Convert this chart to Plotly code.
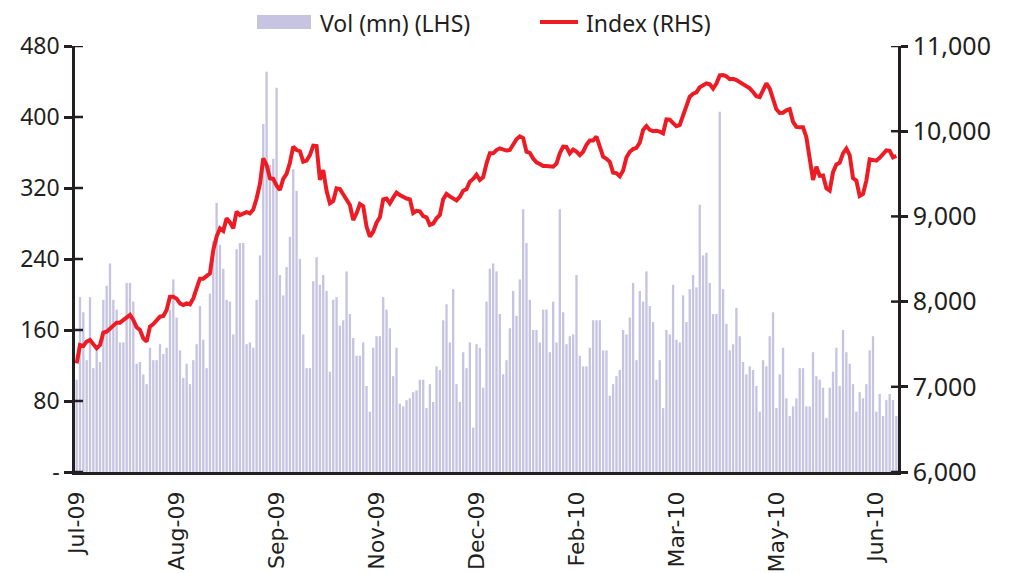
import plotly.graph_objects as go

# ---- data ----
vol_mn = [
    104,197,180,126,197,117,137,124,194,210,235,194,183,146,146,213,213,192,122,124,
    110,99,140,126,126,144,133,140,183,217,174,137,106,122,99,126,144,187,149,117,201,
    260,303,256,229,194,192,155,251,258,258,144,146,140,194,244,392,451,346,353,433,
    222,199,231,265,341,317,240,155,117,117,215,242,211,222,204,113,194,197,165,171,226,178,
    151,131,131,146,97,68,140,153,153,197,183,162,108,140,77,74,81,83,90,92,
    104,104,72,99,79,119,115,171,189,146,206,99,79,135,117,146,50,144,140,95,192,229,
    235,226,178,110,126,162,204,176,217,296,258,194,160,160,146,183,183,135,192,146,
    296,180,144,153,155,222,131,119,119,140,171,171,171,137,137,86,99,108,115,160,155,174,
    213,126,204,192,226,187,169,104,126,72,160,155,211,149,146,199,169,206,222,208,
    301,244,247,213,178,178,406,206,167,137,144,185,153,124,110,119,115,97,68,126,119,
    153,180,72,110,140,83,63,74,83,117,117,74,74,135,108,104,95,61,95,113,
    140,97,160,135,122,99,68,90,83,99,137,153,68,88,63,81,88,81,63,
]

index_level = [
    7275,7490,7479,7530,7549,7502,7451,7490,7635,7647,7686,7725,7753,7753,7784,7823,7843,7784,7698,7667,
    7569,7530,7706,7737,7784,7823,7831,7901,8058,8058,8034,7979,7960,7979,7968,8038,8156,8269,8269,8300,8331,
    8605,8762,8860,8830,8977,8930,8860,9055,9016,9036,9050,9036,9080,9210,9380,9681,9603,9447,9440,9360,
    9310,9440,9500,9630,9818,9779,9765,9642,9654,9720,9830,9826,9430,9544,9300,9153,9180,9330,9321,9260,9200,9134,
    8958,9036,9145,9120,8880,8762,8820,8926,8990,9200,9210,9153,9220,9280,9250,9223,9210,9200,9040,9065,
    9060,9004,8990,8900,8915,8977,9016,9200,9263,9235,9212,9188,9231,9302,9320,9407,9440,9490,9427,9460,9620,9740,
    9740,9779,9799,9783,9773,9779,9835,9905,9940,9920,9759,9745,9680,9635,9615,9591,9591,9591,9583,9620,
    9740,9818,9815,9740,9785,9760,9720,9759,9840,9890,9890,9936,9810,9701,9677,9640,9513,9508,9470,9540,9690,9759,
    9790,9805,9865,10015,10061,10015,10000,10006,9995,9975,10139,10135,10095,10058,10073,10180,10270,10405,10440,10455,
    10515,10542,10562,10550,10500,10560,10655,10659,10645,10610,10615,10600,10578,10558,10535,10503,10460,10410,10400,10491,10562,
    10500,10380,10257,10215,10217,10245,10260,10110,10050,10045,10045,9930,9701,9427,9583,9475,9480,9329,9302,9520,
    9610,9630,9740,9795,9720,9450,9420,9240,9263,9420,9669,9658,9654,9688,9725,9775,9770,9693,9710,
]

month_labels = ["Jul-09", "Aug-09", "Sep-09", "Nov-09", "Dec-09", "Feb-10", "Mar-10", "May-10", "Jun-10"]
label_every = 30

left_ticks = [0, 80, 160, 240, 320, 400, 480]
left_labels = ["-", "80", "160", "240", "320", "400", "480"]
right_ticks = [6000, 7000, 8000, 9000, 10000, 11000]
legend_names = ["Vol (mn) (LHS)", "Index (RHS)"]

# ---- figure ----
n = len(vol_mn)
days = list(range(n))
tick_pos = [i * label_every for i in range(len(month_labels))]

BAR = "#C6C4E1"
RED = "#ED1C24"
INK = "#231F20"
OFF = 8                     # default body margin of the html page
PL, PT, PR, PB = 75, 46, 898, 472   # plot area in page pixels
PW, PH = PR - PL, PB - PT

fig = go.Figure()
fig.add_trace(go.Bar(x=days, y=vol_mn, marker=dict(color=BAR, line=dict(width=0)),
                     name=legend_names[0], showlegend=False, yaxis="y"))
fig.add_trace(go.Scatter(x=days, y=index_level, mode="lines", line=dict(color=RED, width=4),
                         name=legend_names[1], showlegend=False, yaxis="y2"))

def px_x(p):
    return (p - PL) / PW

def px_y(p):
    return (PB - p) / PH

shapes = []
for v in left_ticks:
    shapes.append(dict(type="line", xref="paper", yref="y", x0=0, x1=8 / PW, y0=v, y1=v,
                       line=dict(color=INK, width=2.5)))
for v in right_ticks:
    shapes.append(dict(type="line", xref="paper", yref="y2", x0=1 - 7 / PW, x1=1, y0=v, y1=v,
                       line=dict(color=INK, width=2.5)))
# legend swatches
shapes.append(dict(type="rect", xref="paper", yref="paper", x0=px_x(257), x1=px_x(311),
                   y0=px_y(29), y1=px_y(15), fillcolor=BAR, line=dict(width=0)))
shapes.append(dict(type="line", xref="paper", yref="paper", x0=px_x(540), x1=px_x(578),
                   y0=px_y(22), y1=px_y(22), line=dict(color=RED, width=4)))

annotations = [
    dict(xref="paper", yref="paper", x=px_x(318), y=px_y(23), xanchor="left", yanchor="middle",
         text=legend_names[0], showarrow=False, font=dict(size=23, color=INK)),
    dict(xref="paper", yref="paper", x=px_x(584), y=px_y(23), xanchor="left", yanchor="middle",
         text=legend_names[1], showarrow=False, font=dict(size=23, color=INK)),
]

W, H = 1010 - OFF, 573 - OFF
fig.update_layout(
    width=W, height=H,
    margin=dict(l=PL - OFF, r=W - (PR - OFF), t=PT - OFF, b=H - (PB - OFF), autoexpand=False),
    plot_bgcolor="white", paper_bgcolor="white",
    font=dict(family="Noto Sans", size=22, color=INK),
    bargap=0.3,
    showlegend=False,
    xaxis=dict(range=[-0.5, n - 0.5], tickmode="array", tickvals=tick_pos, ticktext=month_labels,
               tickangle=-90, showline=True, linecolor=INK, linewidth=2.5, ticks="",
               showgrid=False, zeroline=False, automargin=False, ticklabelstandoff=8,
               tickfont=dict(family="DejaVu Sans", size=22)),
    yaxis=dict(range=[0, 480], tickmode="array", tickvals=left_ticks, ticktext=left_labels,
               ticks="outside", ticklen=8, tickwidth=2.5, tickcolor=INK, automargin=False,
               showline=True, linecolor=INK, linewidth=2.5, showgrid=False, zeroline=False,
               tickfont=dict(size=23)),
    yaxis2=dict(range=[6000, 11000], overlaying="y", side="right", tickmode="array",
                tickvals=right_ticks, ticktext=[f"{v:,}" for v in right_ticks],
                ticks="outside", ticklen=7, tickwidth=2.5, tickcolor=INK, automargin=False,
                showline=True, linecolor=INK, linewidth=2.5, showgrid=False, zeroline=False,
                tickfont=dict(size=25)),
    shapes=shapes,
    annotations=annotations,
)

fig.write_html("out.html")
